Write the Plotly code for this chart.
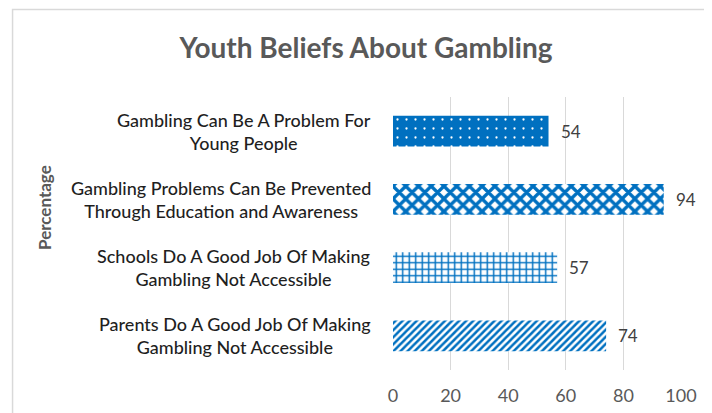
import plotly.graph_objects as go

categories = [
    "Gambling Can Be A Problem For<br>Young People",
    "Gambling Problems Can Be Prevented<br>Through Education and Awareness",
    "Schools Do A Good Job Of Making<br>Gambling Not Accessible",
    "Parents Do A Good Job Of Making<br>Gambling Not Accessible",
]
values = [54, 94, 57, 74]
x_ticks = [0, 20, 40, 60, 80, 100]
title_text = "Youth Beliefs About Gambling"
y_title = "Percentage"

BLUE = "#0070C0"
FONT = "Lato"

fig = go.Figure()
fig.add_trace(go.Bar(
    x=values,
    y=categories,
    orientation="h",
    marker=dict(
        color=BLUE,
        line=dict(width=0),
        pattern=dict(
            shape=[".", "x", "+", "/"],
            fgcolor=["#FFFFFF", BLUE, BLUE, BLUE],
            bgcolor=[BLUE, "#FFFFFF", "#FFFFFF", "#FFFFFF"],
            size=[9, 9, 6.5, 5],
            solidity=[0.05, 0.6, 0.4, 0.5],
            fgopacity=1,
            fillmode="overlay",
        ),
    ),
    hoverinfo="skip",
))

annotations = []
for c, v in zip(categories, values):
    annotations.append(dict(
        x=0, y=c, xref="paper", yref="y", xanchor="right", yanchor="middle",
        xshift=-20, text=c, showarrow=False, align="center",
        font=dict(family=FONT, size=18, color="#1F1F1F", weight=500),
    ))
    annotations.append(dict(
        x=v, y=c, xref="x", yref="y", xanchor="left", yanchor="middle",
        xshift=10, text=str(v), showarrow=False,
        font=dict(family=FONT, size=17, color="#404040"),
    ))
annotations.append(dict(
    x=-1.212, y=0.597, xref="paper", yref="paper", text=y_title, textangle=-90,
    showarrow=False, xanchor="center", yanchor="middle",
    font=dict(family=FONT, size=17, color="#595959", weight="bold"),
))

fig.update_layout(
    width=704, height=405,
    margin=dict(l=385, r=31, t=89, b=43, autoexpand=False),
    paper_bgcolor="white", plot_bgcolor="white",
    title=dict(text="<b>" + title_text + "</b>", x=0.5085, xanchor="center",
               y=0.901, yanchor="middle",
               font=dict(family=FONT, size=28, color="#595959")),
    bargap=0.55,
    showlegend=False,
    annotations=annotations,
    xaxis=dict(range=[0, 100], tickvals=x_ticks, showgrid=True, gridcolor="#D9D9D9",
               gridwidth=1.2, zeroline=False, showline=False, automargin=False,
               ticks="outside", ticklen=9, tickcolor="rgba(0,0,0,0)",
               tickfont=dict(family=FONT, size=18, color="#595959")),
    yaxis=dict(autorange="reversed", showticklabels=False, showgrid=False,
               zeroline=False, showline=False, ticks="", automargin=False),
    shapes=[dict(type="rect", xref="paper", yref="paper", x0=-1.321, x1=1.2,
                 y0=-0.3, y1=1.3205, line=dict(color="#D9D9D9", width=1.5),
                 fillcolor="rgba(0,0,0,0)", layer="below")],
)

fig.write_html("out.html")
